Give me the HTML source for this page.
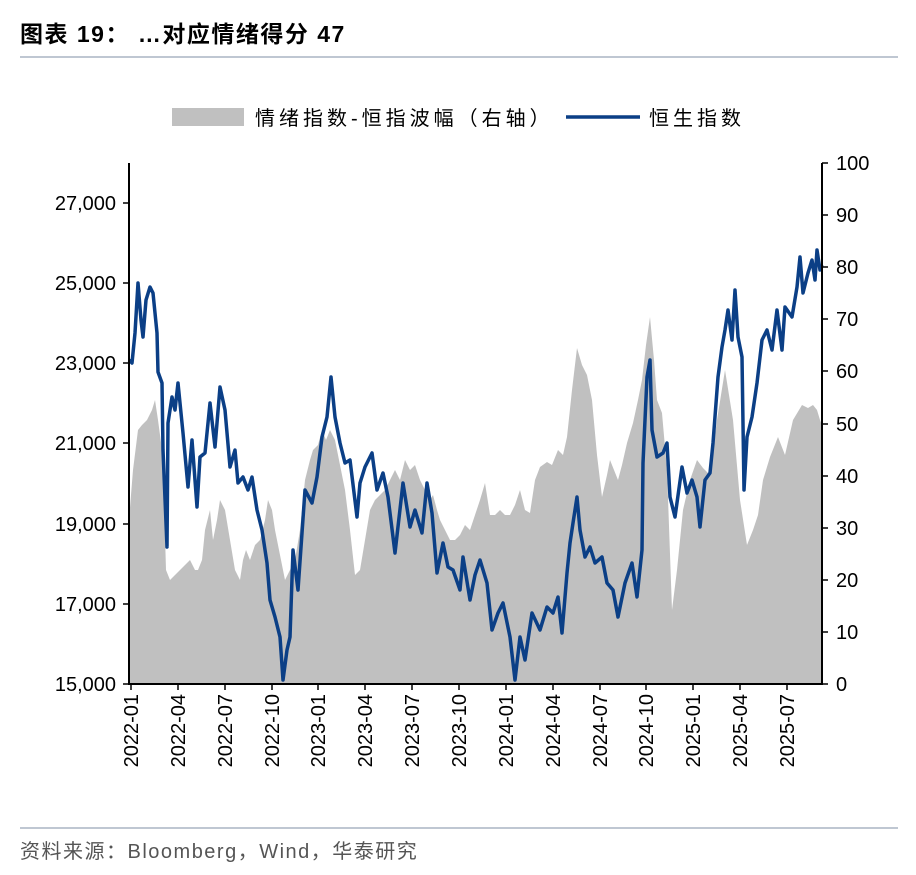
<!DOCTYPE html>
<html><head><meta charset="utf-8"><style>
body{margin:0;background:#fff;}
svg text{font-family:"Liberation Sans","Noto Sans CJK SC",sans-serif;}
</style></head><body>
<svg width="916" height="870" viewBox="0 0 916 870" xmlns="http://www.w3.org/2000/svg">
<text x="20" y="42" font-size="23" font-weight="bold" fill="#000" letter-spacing="1.5">图表 19：  …对应情绪得分 47</text>
<line x1="20" y1="57" x2="898" y2="57" stroke="#7f8fa6" stroke-width="1"/>
<rect x="172" y="108" width="72" height="18" fill="#c0c0c0"/>
<text x="255" y="125" font-size="20" fill="#000" letter-spacing="4">情绪指数-恒指波幅（右轴）</text>
<line x1="566" y1="117" x2="640" y2="117" stroke="#0b3f86" stroke-width="3.5"/>
<text x="649" y="125" font-size="20" fill="#000" letter-spacing="4">恒生指数</text>
<polygon fill="#c0c0c0" points="129,684 129,520 133,470 138,430 142,425 147,420 152,410 155,400 158,420 162,450 164,500 166,570 170,580 175,575 180,570 185,565 190,560 195,570 198,570 202,560 205,530 210,510 213,540 217,520 220,500 225,510 230,540 235,570 240,580 243,560 246,550 250,560 255,545 260,540 265,520 268,500 272,510 275,530 280,555 285,580 290,570 295,560 300,530 305,480 310,460 313,450 318,445 322,430 326,440 330,430 335,440 340,465 345,490 350,530 355,575 360,570 365,540 370,510 375,500 380,495 385,490 390,480 395,470 400,480 405,460 410,470 415,465 420,480 425,490 430,500 433,495 437,510 440,520 445,530 450,540 455,540 460,535 465,525 470,530 475,515 480,500 485,483 490,515 495,515 500,510 505,515 510,515 515,505 520,490 525,510 530,513 535,480 540,467 547,462 552,465 558,450 563,455 567,437 572,390 577,348 582,365 587,375 592,400 597,455 602,497 607,475 610,460 614,470 618,480 622,465 627,443 633,423 638,400 642,380 646,345 650,317 654,360 657,400 662,413 667,470 672,610 677,570 683,510 690,480 697,460 703,468 710,475 717,420 721,395 725,370 729,395 733,420 740,500 747,545 753,530 758,515 763,480 770,457 778,437 785,455 793,420 802,405 808,408 813,405 817,410 820,420 822,425 822,684"/>
<polyline fill="none" stroke="#0b3f86" stroke-width="3.5" stroke-linejoin="round" points="129,360 132,363 135,333 138,283 141,320 143,337 146,300 150,287 153,293 157,333 158,372 162,383 163,450 167,547 168,423 172,397 175,410 178,383 183,433 188,487 192,440 197,507 200,457 205,453 210,403 215,447 220,387 225,410 230,467 235,450 238,483 243,477 248,490 252,477 257,510 262,530 267,563 270,600 275,617 280,637 283,680 287,650 290,637 293,550 298,590 302,533 305,490 312,503 317,477 322,437 327,417 331,377 335,417 340,443 345,463 350,460 357,517 360,483 365,467 372,453 377,490 383,473 388,497 395,553 403,483 410,527 415,510 422,533 427,483 432,513 437,573 443,543 448,567 453,570 460,590 463,557 470,600 475,575 480,560 487,583 492,630 498,613 503,603 510,637 515,680 520,637 525,660 532,613 540,630 547,607 553,613 558,597 562,633 567,573 570,543 573,523 577,497 580,530 585,557 590,547 595,563 602,557 607,583 613,590 618,617 625,583 632,563 637,597 642,550 643,463 647,377 650,360 652,430 657,457 663,453 667,443 670,497 675,517 682,467 687,493 692,480 697,497 700,527 705,480 710,473 713,443 718,377 722,347 725,330 728,310 732,340 735,290 738,337 742,357 744,490 747,437 752,417 757,383 762,340 767,330 772,350 777,310 782,350 785,307 792,317 797,287 800,257 803,293 808,273 812,260 815,280 817,250 820,270 822,265"/>
<g stroke="#000" stroke-width="2">
<line x1="129" y1="163" x2="129" y2="685"/>
<line x1="822" y1="163" x2="822" y2="685"/>
<line x1="128" y1="684" x2="823" y2="684"/>
</g>
<g stroke="#000" stroke-width="1.5">
<line x1="123" y1="684" x2="129" y2="684"/><line x1="123" y1="604" x2="129" y2="604"/><line x1="123" y1="524" x2="129" y2="524"/><line x1="123" y1="443" x2="129" y2="443"/><line x1="123" y1="363" x2="129" y2="363"/><line x1="123" y1="283" x2="129" y2="283"/><line x1="123" y1="203" x2="129" y2="203"/>
<line x1="822" y1="684" x2="828" y2="684"/><line x1="822" y1="632" x2="828" y2="632"/><line x1="822" y1="580" x2="828" y2="580"/><line x1="822" y1="528" x2="828" y2="528"/><line x1="822" y1="476" x2="828" y2="476"/><line x1="822" y1="424" x2="828" y2="424"/><line x1="822" y1="371" x2="828" y2="371"/><line x1="822" y1="319" x2="828" y2="319"/><line x1="822" y1="267" x2="828" y2="267"/><line x1="822" y1="215" x2="828" y2="215"/><line x1="822" y1="163" x2="828" y2="163"/>
<line x1="131" y1="684" x2="131" y2="690"/><line x1="178" y1="684" x2="178" y2="690"/><line x1="225" y1="684" x2="225" y2="690"/><line x1="272" y1="684" x2="272" y2="690"/><line x1="318" y1="684" x2="318" y2="690"/><line x1="365" y1="684" x2="365" y2="690"/><line x1="412" y1="684" x2="412" y2="690"/><line x1="459" y1="684" x2="459" y2="690"/><line x1="506" y1="684" x2="506" y2="690"/><line x1="553" y1="684" x2="553" y2="690"/><line x1="600" y1="684" x2="600" y2="690"/><line x1="646" y1="684" x2="646" y2="690"/><line x1="693" y1="684" x2="693" y2="690"/><line x1="740" y1="684" x2="740" y2="690"/><line x1="787" y1="684" x2="787" y2="690"/>
</g>
<g font-size="20" text-anchor="end" fill="#000">
<text x="116" y="691">15,000</text><text x="116" y="611">17,000</text><text x="116" y="531">19,000</text><text x="116" y="450">21,000</text><text x="116" y="370">23,000</text><text x="116" y="290">25,000</text><text x="116" y="210">27,000</text>
</g>
<g font-size="20" fill="#000">
<text x="836" y="691">0</text><text x="836" y="639">10</text><text x="836" y="587">20</text><text x="836" y="535">30</text><text x="836" y="483">40</text><text x="836" y="431">50</text><text x="836" y="378">60</text><text x="836" y="326">70</text><text x="836" y="274">80</text><text x="836" y="222">90</text><text x="836" y="170">100</text>
</g>
<g font-size="20" fill="#000" text-anchor="end">
<text transform="translate(138,694) rotate(-90)">2022-01</text>
<text transform="translate(185,694) rotate(-90)">2022-04</text>
<text transform="translate(232,694) rotate(-90)">2022-07</text>
<text transform="translate(279,694) rotate(-90)">2022-10</text>
<text transform="translate(325,694) rotate(-90)">2023-01</text>
<text transform="translate(372,694) rotate(-90)">2023-04</text>
<text transform="translate(419,694) rotate(-90)">2023-07</text>
<text transform="translate(466,694) rotate(-90)">2023-10</text>
<text transform="translate(513,694) rotate(-90)">2024-01</text>
<text transform="translate(560,694) rotate(-90)">2024-04</text>
<text transform="translate(607,694) rotate(-90)">2024-07</text>
<text transform="translate(653,694) rotate(-90)">2024-10</text>
<text transform="translate(700,694) rotate(-90)">2025-01</text>
<text transform="translate(747,694) rotate(-90)">2025-04</text>
<text transform="translate(794,694) rotate(-90)">2025-07</text>
</g>
<line x1="20" y1="828" x2="898" y2="828" stroke="#7f8fa6" stroke-width="1"/>
<text x="20" y="858" font-size="20" fill="#555" letter-spacing="1.5">资料来源：Bloomberg，Wind，华泰研究</text>
</svg>
</body></html>
